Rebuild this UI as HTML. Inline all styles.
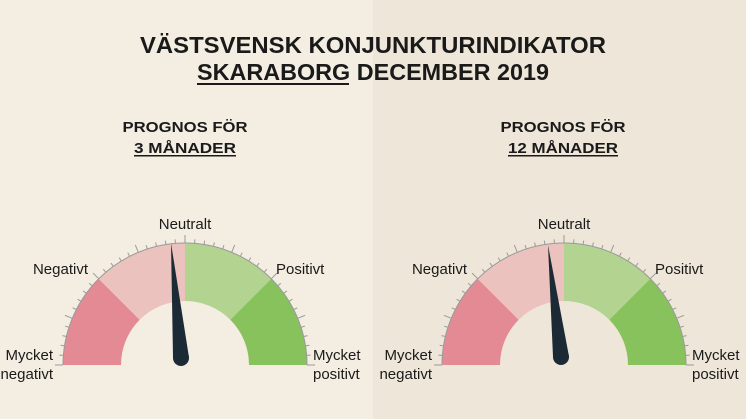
<!DOCTYPE html>
<html><head><meta charset="utf-8"><style>
html,body{margin:0;padding:0;width:746px;height:419px;overflow:hidden}
svg{display:block}
text{font-family:"Liberation Sans",sans-serif;fill:#1a1a1a}
.t{font-weight:bold;font-size:23px}
.s{font-weight:bold;font-size:15px}
.l{font-size:15px}
</style></head><body>
<svg id="s" width="746" height="419" viewBox="0 0 746 419">
<rect x="0" y="0" width="373" height="419" fill="#f3ede2"/>
<rect x="373" y="0" width="373" height="419" fill="#eee6d8"/>
<text class="t" x="373" y="53" text-anchor="middle" textLength="466" lengthAdjust="spacingAndGlyphs">VÄSTSVENSK KONJUNKTURINDIKATOR</text>
<text class="t" x="373" y="80" text-anchor="middle" textLength="352" lengthAdjust="spacingAndGlyphs">SKARABORG DECEMBER 2019</text>
<rect x="197" y="83" width="152" height="2" fill="#1a1a1a"/>
<text class="s" x="185" y="132" text-anchor="middle" textLength="125" lengthAdjust="spacingAndGlyphs">PROGNOS FÖR</text>
<text class="s" x="185" y="153" text-anchor="middle" textLength="102" lengthAdjust="spacingAndGlyphs">3 MÅNADER</text>
<rect x="134" y="155" width="102" height="1.5" fill="#1a1a1a"/>
<text class="s" x="563" y="132" text-anchor="middle" textLength="125" lengthAdjust="spacingAndGlyphs">PROGNOS FÖR</text>
<text class="s" x="563" y="153" text-anchor="middle" textLength="110" lengthAdjust="spacingAndGlyphs">12 MÅNADER</text>
<rect x="508" y="155" width="110" height="1.5" fill="#1a1a1a"/>
<g id="g1"></g>
<g id="g2"></g>
</svg>
<script>
function gauge(cx,cy,tip,piv,id){
  var R=122,r=64,g=document.getElementById(id),h='';
  var cols=['#e48a94','#ecc2bf','#b3d391','#88c25c'];
  function P(a,rad){a=a*Math.PI/180;return [(cx+rad*Math.cos(a)).toFixed(1),(cy-rad*Math.sin(a)).toFixed(1)];}
  for(var i=0;i<4;i++){var a0=180-45*i,a1=a0-45;var p0=P(a0,R),p1=P(a1,R),q1=P(a1,r),q0=P(a0,r);
    h+='<path fill="'+cols[i]+'" d="M'+p0+' A'+R+','+R+' 0 0 1 '+p1+' L'+q1+' A'+r+','+r+' 0 0 0 '+q0+' Z"/>';}
  var a=P(180,R),b=P(0,R);
  h+='<path fill="none" stroke="#9a9a9a" stroke-width="1" d="M'+a+' A'+R+','+R+' 0 0 1 '+b+'"/>';
  for(var k=0;k<=40;k++){var ang=180-4.5*k;var L=(k%5==0)?8:4;var s=P(ang,R),e=P(ang,R+L);
    h+='<line x1="'+s[0]+'" y1="'+s[1]+'" x2="'+e[0]+'" y2="'+e[1]+'" stroke="#9a9a9a" stroke-width="1"/>';}
  var dx=tip[0]-piv[0],dy=tip[1]-piv[1],len=Math.hypot(dx,dy),nx=-dy/len*8,ny=dx/len*8;
  h+='<polygon fill="#1c2a36" points="'+tip[0]+','+tip[1]+' '+(piv[0]+nx)+','+(piv[1]+ny)+' '+(piv[0]-nx)+','+(piv[1]-ny)+'"/>';
  h+='<circle cx="'+piv[0]+'" cy="'+piv[1]+'" r="8" fill="#1c2a36"/>';
  h+='<text class="l" x="'+cx+'" y="229" text-anchor="middle">Neutralt</text>';
  h+='<text class="l" x="'+(cx-97)+'" y="274" text-anchor="end">Negativt</text>';
  h+='<text class="l" x="'+(cx+91)+'" y="274">Positivt</text>';
  h+='<text class="l" x="'+(cx-132)+'" y="360" text-anchor="end">Mycket</text>';
  h+='<text class="l" x="'+(cx-132)+'" y="379" text-anchor="end">negativt</text>';
  h+='<text class="l" x="'+(cx+128)+'" y="360">Mycket</text>';
  h+='<text class="l" x="'+(cx+128)+'" y="379">positivt</text>';
  g.innerHTML=h;
}
gauge(185,365,[171,243],[181,358],'g1');
gauge(564,365,[548,245],[561,357],'g2');
</script>
</body></html>
